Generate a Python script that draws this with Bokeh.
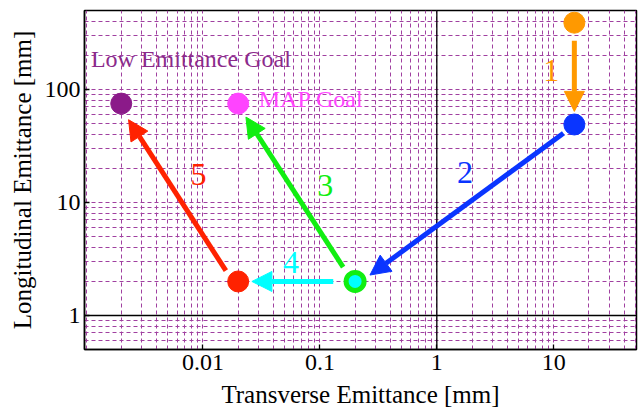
from bokeh.plotting import figure
from bokeh.models import FixedTicker, Span, Arrow, NormalHead, ColumnDataSource
from bokeh.core.properties import value
from bokeh.embed import file_html
from bokeh.resources import INLINE

# ---------------- data ----------------
x_ticks = [0.01, 0.1, 1, 10]
x_tick_labels = ["0.01", "0.1", "1", "10"]
y_ticks = [1, 10, 100]
y_tick_labels = ["1", "10", "100"]

# solid markers
pt_x = [15, 15, 0.02, 0.02, 0.002]
pt_y = [390, 49, 2, 75, 75]
pt_color = ["#ff9900", "#0a35ff", "#ff2200", "#ff44ff", "#8b1a89"]

# ring marker (green outline, cyan fill)
ring_x = [0.2]
ring_y = [2]

# arrows (tail -> head) with step labels
arrow_label = ["1", "2", "3", "4", "5"]
arrow_x0 = [15, 12.1, 0.158, 0.13, 0.0157]
arrow_y0 = [270, 41, 2.68, 2.0, 2.49]
arrow_x1 = [15, 0.268, 0.0233, 0.0262, 0.00231]
arrow_y1 = [64, 2.28, 57, 2.0, 54]
arrow_color = ["#ff9900", "#0a35ff", "#11ee11", "#00ffff", "#ff2200"]
label_x = [9.5, 1.74, 0.111, 0.0567, 0.00917]
label_y = [146, 18.4, 14.0, 2.94, 17.6]

# goal annotations
goal_text = ["Low Emittance Goal", "MAP Goal"]
goal_x = [0.0011, 0.03]
goal_y = [185, 83]
goal_color = ["#8b2a8b", "#ff44ff"]

FONT = "Liberation Serif"
GRID = "#a040a0"

p = figure(width=638, height=410, x_axis_type="log", y_axis_type="log",
           x_range=(0.00097, 51), y_range=(0.5, 500),
           output_backend="svg", toolbar_location=None,
           min_border_left=84, min_border_right=2, min_border_top=10, min_border_bottom=59)

p.background_fill_color = "white"
p.border_fill_color = "white"
p.outline_line_color = "black"
p.outline_line_width = 1.5

# grids
grid_x = [m * 10.0 ** e for e in range(-3, 2) for m in range(1, 10)]
grid_y = [m * 10.0 ** e for e in range(-1, 3) for m in range(1, 10)]
p.xgrid.ticker = FixedTicker(ticks=grid_x)
p.ygrid.ticker = FixedTicker(ticks=grid_y)
for g in (p.xgrid, p.ygrid):
    g.grid_line_color = GRID
    g.grid_line_dash = "4 3"
    g.grid_line_width = 1

p.add_layout(Span(location=1, dimension="height", line_color="black", line_width=1.3, level="underlay"))
p.add_layout(Span(location=1, dimension="width", line_color="black", line_width=1.3, level="underlay"))

# axes
p.xaxis.ticker = FixedTicker(ticks=x_ticks)
p.yaxis.ticker = FixedTicker(ticks=y_ticks)
p.xaxis.major_label_overrides = dict(zip(x_ticks, x_tick_labels))
p.yaxis.major_label_overrides = dict(zip(y_ticks, y_tick_labels))
p.xaxis.axis_label = "Transverse Emittance [mm]"
p.yaxis.axis_label = "Longitudinal Emittance [mm]"
for ax in (p.xaxis, p.yaxis):
    ax.major_tick_in = 5
    ax.major_tick_out = 0
    ax.major_tick_line_width = 1.3
    ax.minor_tick_line_color = None
    ax.axis_line_width = 1.5
    ax.major_label_text_font = FONT
    ax.major_label_text_font_size = "24px"
    ax.major_label_text_color = "black"
    ax.axis_label_text_font = FONT
    ax.axis_label_text_font_size = "25px"
    ax.axis_label_text_font_style = "normal"
    ax.axis_label_text_color = "black"
p.xaxis.major_label_standoff = 5
p.xaxis.axis_label_standoff = 8
p.yaxis.major_label_standoff = 4
p.yaxis.axis_label_standoff = 6

# arrows
for i in range(len(arrow_label)):
    c = arrow_color[i]
    p.add_layout(Arrow(x_start=arrow_x0[i], y_start=arrow_y0[i],
                       x_end=arrow_x1[i], y_end=arrow_y1[i],
                       line_color=c, line_width=5,
                       end=NormalHead(size=20, fill_color=c, line_color=c, line_width=1)))

# points
pts = ColumnDataSource(dict(x=pt_x, y=pt_y, color=pt_color))
p.scatter("x", "y", source=pts, size=21, fill_color="color", line_color="color", line_width=1)
p.scatter(ring_x, ring_y, size=18, fill_color="#00ffff", line_color="#11ee11", line_width=5)

# step labels
lab = ColumnDataSource(dict(x=label_x, y=label_y, text=arrow_label, color=arrow_color))
p.text("x", "y", text="text", source=lab, text_color="color", text_font=value(FONT),
       text_font_size="32px", text_align="center", text_baseline="alphabetic")

# goal labels
gl = ColumnDataSource(dict(x=goal_x, y=goal_y, text=goal_text, color=goal_color))
p.text("x", "y", text="text", source=gl, text_color="color", text_font=value(FONT),
       text_font_size="24px", text_align="left", text_baseline="alphabetic")

open("out.html", "w").write(file_html(p, INLINE))
